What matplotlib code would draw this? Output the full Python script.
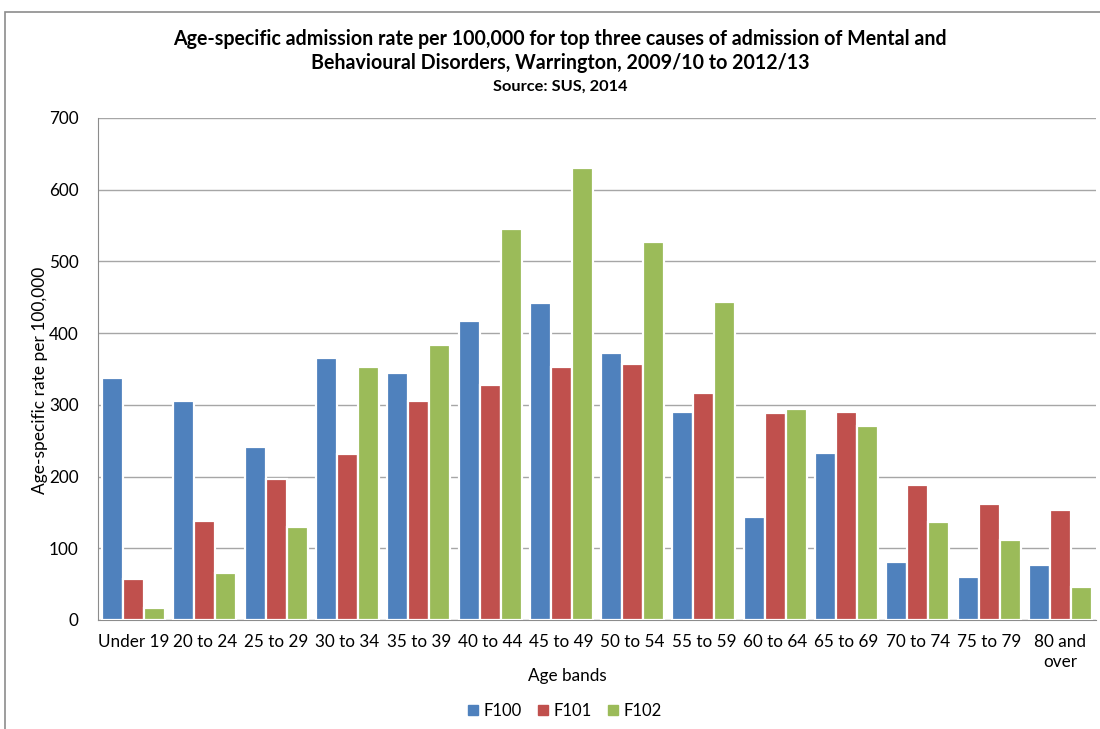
import numpy as np
import matplotlib.pyplot as plt
from matplotlib.patches import Rectangle, Patch

plt.rcParams['font.family'] = ['Lato', 'DejaVu Sans']

# age bands and rates per 100,000 for the three diagnosis codes
age_bands = ["Under 19", "20 to 24", "25 to 29", "30 to 34", "35 to 39", "40 to 44",
             "45 to 49", "50 to 54", "55 to 59", "60 to 64", "65 to 69", "70 to 74",
             "75 to 79", "80 and\nover"]
f100 = [337, 306, 241, 365, 345, 417, 442, 373, 290, 143, 233, 81, 60, 77]
f101 = [57, 138, 196, 231, 306, 328, 353, 357, 316, 288, 290, 188, 162, 154]
f102 = [17, 66, 130, 353, 384, 545, 630, 527, 444, 294, 270, 136, 112, 46]

series = [("F100", f100, "#4F81BD"), ("F101", f101, "#C0504D"), ("F102", f102, "#9BBB59")]

W, H = 1100, 729
fig = plt.figure(figsize=(W / 100, H / 100), dpi=100)

# chart border
fig.patches.append(Rectangle((5 / W, -0.1), 1.2, 1 - 12 / H + 0.1, transform=fig.transFigure,
                             fill=False, edgecolor="#8c8c8c", linewidth=1.2))

ax = fig.add_axes([98 / W, 1 - 620 / H, 998 / W, 502 / H])
x = np.arange(len(age_bands))
step = 0.295
for i, (name, vals, col) in enumerate(series):
    ax.bar(x + (i - 1) * step, vals, width=step, color=col, edgecolor="white",
           linewidth=1.6, label=name, zorder=3)

ax.set_xlim(-0.5, len(age_bands) - 0.5)
ax.set_ylim(0, 700)
ax.set_yticks(range(0, 701, 100))
ax.set_xticks(x)
ax.set_xticklabels(age_bands, fontsize=12.3, linespacing=1.3)
ax.tick_params(axis="y", labelsize=12.3, length=0, pad=14)
ax.tick_params(axis="x", length=0, pad=10)
ax.grid(axis="y", color="#a6a6a6", linewidth=1.0, zorder=0)
for s in ["top", "right"]:
    ax.spines[s].set_visible(False)
ax.spines["left"].set_color("#8c8c8c")
ax.spines["bottom"].set_color("#8c8c8c")

fig.text(560 / W, 1 - 39 / H, "Age-specific admission rate per 100,000 for top three causes of admission of Mental and",
         ha="center", va="center", fontsize=14.1, fontweight="bold")
fig.text(560 / W, 1 - 63 / H, "Behavioural Disorders, Warrington, 2009/10 to 2012/13",
         ha="center", va="center", fontsize=14.1, fontweight="bold")
fig.text(560 / W, 1 - 87 / H, "Source: SUS, 2014", ha="center", va="center",
         fontsize=11.8, fontweight="bold")

fig.text(40 / W, 1 - 380 / H, "Age-specific rate per 100,000", rotation=90,
         ha="center", va="center", fontsize=12.5)
fig.text(567 / W, 1 - 676 / H, "Age bands", ha="center", va="center", fontsize=12.3)

handles = [Patch(color=c, label=n) for n, _, c in series]
fig.legend(handles=handles, loc="center", bbox_to_anchor=(565 / W, 1 - 711 / H), ncol=3,
           frameon=False, fontsize=12, handlelength=0.6, handleheight=0.6,
           handletextpad=0.3, columnspacing=1.0)

fig.savefig("out.png", dpi=100)
